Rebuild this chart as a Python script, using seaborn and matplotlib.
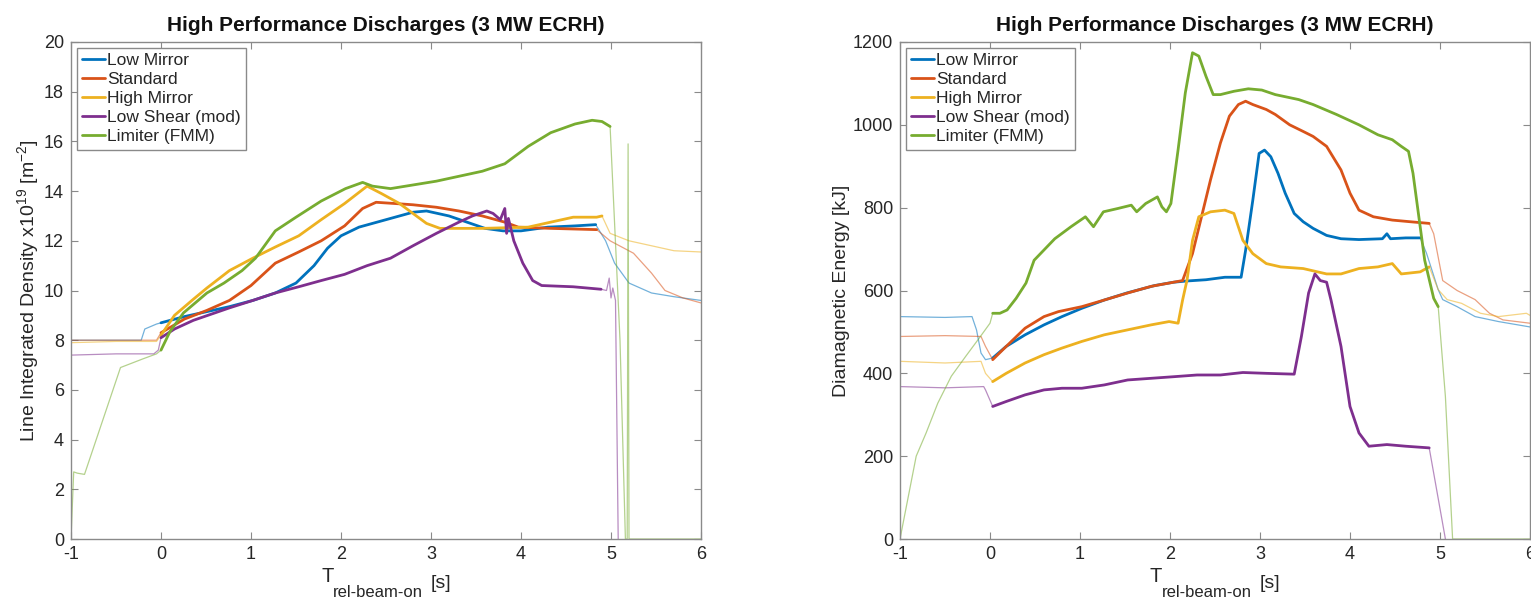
import numpy as np
import pandas as pd
import matplotlib
matplotlib.use("Agg")
import matplotlib.pyplot as plt
import seaborn as sns

# --- data: line integrated density (left panel) ---
series_names = ["Low Mirror", "Standard", "High Mirror", "Low Shear (mod)", "Limiter (FMM)"]
series_colors = ["#0072BD", "#D95319", "#EDB120", "#7E2F8E", "#77AC30"]

dens_lm_t = [-1.0, -0.5, -0.22, -0.18, -0.05, 0.0, 0.26, 0.51, 0.76, 1.02, 1.27, 1.5, 1.7, 1.85, 2.0,
             2.2, 2.5, 2.8, 2.95, 3.2, 3.4, 3.6, 3.8, 4.0, 4.3, 4.6, 4.83, 4.94, 5.04, 5.2, 5.45, 5.7, 6.0]
dens_lm_v = [8.0, 8.0, 8.0, 8.45, 8.65, 8.7, 8.95, 9.15, 9.35, 9.6, 9.9, 10.3, 11.0, 11.7, 12.2,
             12.55, 12.85, 13.15, 13.2, 13.0, 12.75, 12.5, 12.4, 12.4, 12.55, 12.6, 12.65, 12.0, 11.1, 10.3, 9.9, 9.75, 9.6]

dens_std_t = [-1.0, -0.5, -0.05, 0.0, 0.26, 0.51, 0.76, 1.0, 1.27, 1.53, 1.78, 2.04, 2.24, 2.39, 2.6,
              2.8, 3.06, 3.31, 3.57, 3.82, 3.97, 4.33, 4.84, 4.99, 5.25, 5.45, 5.6, 5.8, 6.0]
dens_std_v = [8.0, 8.0, 8.0, 8.3, 8.85, 9.2, 9.6, 10.2, 11.1, 11.55, 12.0, 12.6, 13.3, 13.55, 13.5,
              13.45, 13.35, 13.2, 13.0, 12.75, 12.55, 12.5, 12.45, 12.0, 11.5, 10.7, 10.0, 9.7, 9.5]

dens_hm_t = [-1.0, -0.5, -0.05, 0.0, 0.15, 0.36, 0.51, 0.76, 1.02, 1.27, 1.53, 1.78, 2.04, 2.29, 2.45,
             2.65, 2.8, 2.95, 3.1, 3.57, 4.08, 4.33, 4.58, 4.84, 4.9, 4.99, 5.2, 5.45, 5.7, 6.0]
dens_hm_v = [7.9, 7.95, 7.95, 8.2, 9.0, 9.65, 10.1, 10.8, 11.3, 11.75, 12.2, 12.85, 13.5, 14.2, 13.9,
             13.5, 13.1, 12.7, 12.5, 12.5, 12.55, 12.75, 12.95, 12.95, 13.0, 12.3, 12.0, 11.8, 11.6, 11.55]

dens_ls_t = [-1.0, -0.5, -0.08, -0.03, 0.0, 0.15, 0.36, 0.56, 0.76, 1.02, 1.27, 1.53, 1.78, 2.04, 2.29,
             2.55, 2.8, 3.06, 3.31, 3.46, 3.62, 3.69, 3.77, 3.82, 3.84, 3.86, 3.92, 4.02, 4.13, 4.23,
             4.58, 4.89, 4.95, 4.98, 5.0, 5.02, 5.05, 5.08]
dens_ls_v = [7.4, 7.45, 7.45, 7.6, 8.1, 8.45, 8.8, 9.05, 9.3, 9.6, 9.9, 10.15, 10.4, 10.65, 11.0,
             11.3, 11.8, 12.3, 12.75, 13.0, 13.2, 13.1, 12.85, 13.3, 12.3, 12.9, 12.0, 11.1, 10.4, 10.2,
             10.15, 10.05, 10.0, 10.5, 9.7, 10.1, 9.6, 0.0]

dens_lim_t = [-1.0, -0.97, -0.93, -0.85, -0.45, -0.2, -0.05, 0.0, 0.1, 0.25, 0.51, 0.7, 0.9, 1.05, 1.27,
              1.5, 1.78, 2.05, 2.24, 2.35, 2.55, 3.06, 3.57, 3.82, 4.08, 4.33, 4.6, 4.79, 4.9, 4.99,
              5.1, 5.16, 5.18, 5.19, 5.2, 6.0]
dens_lim_v = [0.0, 2.7, 2.65, 2.6, 6.9, 7.25, 7.45, 7.6, 8.35, 9.1, 9.9, 10.3, 10.8, 11.3, 12.4,
              12.95, 13.6, 14.1, 14.35, 14.2, 14.1, 14.4, 14.8, 15.1, 15.8, 16.35, 16.7, 16.85, 16.8, 16.6,
              8.0, 0.0, 0.0, 15.9, 0.0, 0.0]

# --- data: diamagnetic energy (right panel) ---
wdia_lm_t = [-1.0, -0.5, -0.2, -0.15, -0.1, -0.05, 0.03, 0.18, 0.39, 0.6, 0.8, 1.02, 1.27, 1.52, 1.83,
             2.04, 2.19, 2.4, 2.61, 2.79, 2.84, 2.92, 2.99, 3.05, 3.12, 3.2, 3.28, 3.38, 3.48, 3.59,
             3.74, 3.9, 4.1, 4.36, 4.41, 4.45, 4.62, 4.78, 4.85, 4.98, 5.03, 5.19, 5.39, 5.65, 6.0]
wdia_lm_v = [537, 535, 537, 505, 449, 433, 437, 465, 493, 517, 537, 557, 577, 594, 612,
             620, 623, 626, 632, 632, 697, 818, 931, 939, 923, 883, 835, 786, 766, 750,
             733, 725, 723, 725, 737, 725, 727, 727, 690, 602, 578, 561, 537, 525, 512]

wdia_std_t = [-1.0, -0.5, -0.1, -0.05, 0.03, 0.18, 0.39, 0.6, 0.76, 1.02, 1.27, 1.53, 1.79, 2.04, 2.14,
              2.25, 2.35, 2.45, 2.56, 2.66, 2.76, 2.84, 2.92, 3.07, 3.17, 3.33, 3.48, 3.59, 3.74, 3.9,
              4.0, 4.1, 4.26, 4.47, 4.67, 4.88, 4.93, 5.03, 5.19, 5.39, 5.55, 5.7, 6.0]
wdia_std_v = [489, 491, 489, 465, 433, 465, 509, 537, 549, 561, 577, 594, 610, 620, 624,
              689, 778, 867, 956, 1021, 1049, 1057, 1049, 1037, 1025, 1000, 984, 972, 948, 891,
              835, 794, 778, 770, 766, 762, 737, 624, 600, 578, 545, 529, 521]

wdia_hm_t = [-1.0, -0.5, -0.1, -0.05, 0.03, 0.18, 0.39, 0.6, 0.8, 1.02, 1.27, 1.53, 1.79, 1.99, 2.09,
             2.14, 2.19, 2.25, 2.32, 2.45, 2.61, 2.71, 2.81, 2.92, 3.07, 3.23, 3.48, 3.74, 3.9, 4.1,
             4.31, 4.47, 4.57, 4.78, 4.88, 4.98, 5.08, 5.24, 5.45, 5.65, 5.96, 6.0]
wdia_hm_v = [429, 425, 429, 400, 380, 400, 425, 445, 461, 477, 493, 505, 517, 525, 521,
             577, 626, 721, 778, 790, 794, 786, 721, 689, 665, 657, 653, 640, 640, 653,
             657, 665, 640, 645, 657, 602, 578, 569, 545, 537, 545, 540]

wdia_ls_t = [-1.0, -0.5, -0.07, -0.05, 0.03, 0.18, 0.39, 0.6, 0.8, 1.02, 1.27, 1.53, 1.79, 2.05, 2.3,
             2.56, 2.81, 3.07, 3.38, 3.46, 3.54, 3.61, 3.67, 3.74, 3.79, 3.9, 4.0, 4.1, 4.21, 4.41,
             4.62, 4.88, 5.06]
wdia_ls_v = [368, 365, 368, 360, 320, 332, 348, 360, 364, 364, 372, 384, 388, 392, 396,
             396, 402, 400, 398, 489, 594, 640, 624, 620, 576, 465, 320, 256, 224, 228,
             224, 220, 0]

wdia_lim_t = [-1.0, -0.82, -0.71, -0.58, -0.43, -0.27, -0.12, 0.0, 0.03, 0.11, 0.19, 0.29, 0.4, 0.49, 0.72,
              0.9, 1.06, 1.15, 1.26, 1.42, 1.57, 1.63, 1.73, 1.86, 1.91, 1.96, 2.01, 2.09, 2.17, 2.25,
              2.32, 2.4, 2.48, 2.56, 2.71, 2.87, 3.02, 3.17, 3.43, 3.59, 3.85, 4.1, 4.31, 4.47, 4.57,
              4.65, 4.7, 4.75, 4.83, 4.93, 4.98, 5.06, 5.14, 6.0]
wdia_lim_v = [0, 200, 256, 328, 393, 441, 485, 521, 545, 545, 553, 581, 618, 673, 725,
              754, 778, 754, 790, 798, 806, 790, 810, 826, 802, 790, 810, 940, 1077, 1174,
              1166, 1117, 1073, 1073, 1081, 1087, 1084, 1073, 1061, 1049, 1025, 1000, 976, 964, 948,
              936, 883, 802, 673, 581, 561, 344, 0, 0]

# beam-on window (thick part of each trace)
dens_windows = [(0.0, 4.83), (0.0, 4.84), (0.0, 4.9), (0.0, 4.89), (0.0, 4.99)]
wdia_windows = [(0.03, 4.78), (0.03, 4.88), (0.03, 4.88), (0.03, 4.88), (0.03, 4.98)]

dens_data = [(dens_lm_t, dens_lm_v), (dens_std_t, dens_std_v), (dens_hm_t, dens_hm_v),
             (dens_ls_t, dens_ls_v), (dens_lim_t, dens_lim_v)]
wdia_data = [(wdia_lm_t, wdia_lm_v), (wdia_std_t, wdia_std_v), (wdia_hm_t, wdia_hm_v),
             (wdia_ls_t, wdia_ls_v), (wdia_lim_t, wdia_lim_v)]

sns.set_style("ticks")
plt.rcParams['font.family'] = ['Liberation Sans', 'DejaVu Sans']
plt.rcParams['mathtext.fontset'] = 'custom'
plt.rcParams['mathtext.rm'] = 'Liberation Sans'
plt.rcParams['mathtext.it'] = 'Liberation Sans:italic'
plt.rcParams['mathtext.bf'] = 'Liberation Sans:bold'
plt.rcParams['axes.unicode_minus'] = False

TXT = "#262626"
FRAME = "#8a8a8a"
W, H = 1531, 601


def draw_trace(ax, t, v, window, color, label):
    df = pd.DataFrame({"t": t, "v": v})
    t0, t1 = window
    parts = [
        (df[df.t <= t0], 0.9, 0.55, None),
        (df[(df.t >= t0) & (df.t <= t1)], 2.0, 1.0, label),
        (df[df.t >= t1], 0.9, 0.55, None),
    ]
    for part, lw, alpha, lab in parts:
        if len(part) < 2:
            continue
        sns.lineplot(data=part, x="t", y="v", ax=ax, color=color, linewidth=lw,
                     alpha=alpha, estimator=None, sort=False, label=lab, legend=False)


def style_axes(ax, ylim, yticks, ylabel):
    ax.set_xlim(-1, 6)
    ax.set_ylim(*ylim)
    ax.set_xticks(range(-1, 7))
    ax.set_yticks(yticks)
    ax.tick_params(direction="in", top=True, right=True, length=5, width=0.8,
                   color=FRAME, labelcolor=TXT, labelsize=13, pad=5)
    for sp in ax.spines.values():
        sp.set_color(FRAME)
        sp.set_linewidth(1.0)
    ax.set_title("High Performance Discharges (3 MW ECRH)", fontsize=15,
                 fontweight="bold", color="#111111", pad=8)
    ax.set_xlabel("")
    ax.set_ylabel(ylabel, fontsize=14, color=TXT, labelpad=2)
    leg = ax.legend(loc="upper left", fontsize=12.5, handlelength=1.3, handletextpad=0.15,
                    labelspacing=0.22, borderpad=0.3, borderaxespad=0.35,
                    fancybox=False, framealpha=1, edgecolor=FRAME)
    leg.get_frame().set_linewidth(1.0)
    for txt in leg.get_texts():
        txt.set_color(TXT)


def time_label(fig, x0):
    # MATLAB-style label: T with a large, low subscript and [s]
    fig.text(x0 / W, 1 - 582 / H, "T", fontsize=14.5, color=TXT, va="baseline")
    fig.text((x0 + 12) / W, 1 - 597 / H, "rel-beam-on", fontsize=12, color=TXT, va="baseline")
    fig.text((x0 + 110) / W, 1 - 588 / H, "[s]", fontsize=14, color=TXT, va="baseline")


fig = plt.figure(figsize=(W / 100, H / 100), dpi=100)
ax1 = fig.add_axes([71 / W, 62 / H, 630 / W, 497 / H])
ax2 = fig.add_axes([900 / W, 62 / H, 630 / W, 497 / H])

for (t, v), win, col, name in zip(dens_data, dens_windows, series_colors, series_names):
    draw_trace(ax1, t, v, win, col, name)
for (t, v), win, col, name in zip(wdia_data, wdia_windows, series_colors, series_names):
    draw_trace(ax2, t, v, win, col, name)

style_axes(ax1, (0, 20), range(0, 21, 2),
           "Line Integrated Density x10$^{19}$ [m$^{-2}$]")
style_axes(ax2, (0, 1200), range(0, 1201, 200), "Diamagnetic Energy [kJ]")

time_label(fig, 321)
time_label(fig, 1150)

fig.savefig("out.png", dpi=100)
